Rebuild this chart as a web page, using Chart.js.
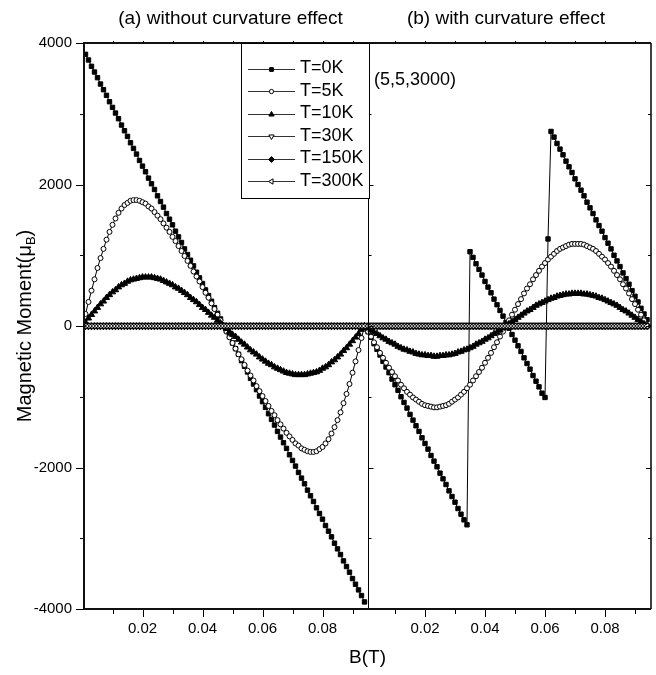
<!DOCTYPE html>
<html>
<head>
<meta charset="utf-8">
<script src="https://cdn.jsdelivr.net/npm/chart.js@4.4.1/dist/chart.umd.min.js"></script>
<style>
  html, body { margin: 0; padding: 0; background: #fff; }
  #wrap { width: 656px; height: 675px; }
</style>
</head>
<body>
<div id="wrap"><canvas id="chart" width="656" height="675"></canvas></div>
<script>
// B (T) sampled for both panels
const fieldB = [
  0.001,0.002,0.003,0.004,0.005,0.006,0.007,0.008,0.009,0.010,
  0.011,0.012,0.013,0.014,0.015,0.016,0.017,0.018,0.019,0.020,
  0.021,0.022,0.023,0.024,0.025,0.026,0.027,0.028,0.029,0.030,
  0.031,0.032,0.033,0.034,0.035,0.036,0.037,0.038,0.039,0.040,
  0.041,0.042,0.043,0.044,0.045,0.046,0.047,0.048,0.049,0.050,
  0.051,0.052,0.053,0.054,0.055,0.056,0.057,0.058,0.059,0.060,
  0.061,0.062,0.063,0.064,0.065,0.066,0.067,0.068,0.069,0.070,
  0.071,0.072,0.073,0.074,0.075,0.076,0.077,0.078,0.079,0.080,
  0.081,0.082,0.083,0.084,0.085,0.086,0.087,0.088,0.089,0.090,
  0.091,0.092,0.093,0.094
];

// (a) without curvature effect
const momentT0a = [
  3840,3760,3670,3590,3510,3420,3340,3260,3170,3090,
  3010,2930,2840,2760,2680,2590,2510,2430,2340,2260,
  2180,2090,2010,1930,1840,1760,1680,1590,1510,1430,
  1340,1260,1180,1090,1010,930,850,760,680,600,
  510,430,350,260,180,100,10,-70,-150,-240,
  -320,-400,-490,-570,-650,-740,-820,-900,-990,-1070,
  -1150,-1240,-1320,-1400,-1490,-1570,-1650,-1730,-1820,-1900,
  -1980,-2070,-2150,-2230,-2320,-2400,-2480,-2570,-2650,-2730,
  -2820,-2900,-2980,-3070,-3150,-3230,-3320,-3400,-3480,-3570,
  -3650,-3730,-3810,-3900
];
const momentT5a = [
  170,340,500,660,820,960,1090,1220,1330,1430,
  1520,1600,1660,1710,1740,1770,1780,1780,1770,1750,
  1730,1690,1660,1610,1560,1510,1450,1390,1330,1260,
  1200,1130,1060,990,920,850,770,700,630,550,
  470,400,320,240,160,80,0,-80,-160,-240,
  -320,-400,-470,-550,-630,-700,-770,-850,-920,-990,
  -1060,-1130,-1200,-1260,-1330,-1390,-1450,-1510,-1560,-1610,
  -1660,-1690,-1730,-1750,-1770,-1780,-1780,-1770,-1740,-1710,
  -1660,-1600,-1520,-1430,-1330,-1220,-1090,-960,-820,-660,
  -500,-340,-170,0
];
const momentT10a = [
  50,110,160,210,260,310,350,400,440,480,
  510,550,580,600,630,650,660,670,680,690,
  690,690,690,680,670,660,640,620,600,580,
  550,530,500,470,440,400,370,340,300,260,
  230,190,150,120,80,40,0,-40,-80,-120,
  -150,-190,-230,-260,-300,-340,-370,-400,-440,-470,
  -500,-530,-550,-580,-600,-620,-640,-660,-670,-680,
  -690,-690,-690,-690,-680,-670,-660,-650,-630,-600,
  -580,-550,-510,-480,-440,-400,-350,-310,-260,-210,
  -160,-110,-50,0
];

// (b) with curvature effect
const momentT0b = [
  -80,-160,-250,-330,-410,-500,-580,-660,-750,-830,
  -910,-1000,-1080,-1160,-1250,-1330,-1410,-1490,-1580,-1660,
  -1740,-1830,-1910,-1990,-2080,-2160,-2240,-2330,-2410,-2490,
  -2580,-2660,-2740,-2810,1050,970,880,800,720,630,
  550,470,380,300,220,140,50,-30,-120,-200,
  -280,-360,-450,-530,-610,-700,-780,-860,-950,-1010,
  1230,2750,2670,2580,2500,2420,2330,2250,2170,2080,
  2000,1920,1840,1750,1670,1590,1500,1420,1340,1250,
  1170,1090,1000,920,840,750,670,590,500,420,
  340,250,170,90
];
const momentT5b = [
  -80,-150,-230,-300,-380,-450,-520,-590,-650,-710,
  -770,-830,-880,-930,-970,-1010,-1040,-1070,-1100,-1120,
  -1130,-1140,-1150,-1150,-1140,-1130,-1120,-1100,-1070,-1040,
  -1010,-970,-930,-880,-830,-770,-710,-650,-590,-520,
  -450,-380,-300,-230,-150,-80,0,80,160,230,
  310,380,460,530,590,660,720,780,840,890,
  940,980,1020,1060,1090,1110,1130,1150,1160,1160,
  1160,1160,1150,1130,1110,1090,1060,1020,980,940,
  890,840,780,720,660,590,530,460,380,310,
  230,160,80,0
];
const momentT10b = [
  -30,-60,-90,-110,-140,-170,-190,-220,-240,-260,
  -290,-310,-330,-340,-360,-370,-390,-400,-410,-410,
  -420,-420,-430,-430,-420,-420,-410,-410,-400,-390,
  -370,-360,-340,-330,-310,-290,-260,-240,-220,-190,
  -170,-140,-110,-90,-60,-30,0,30,60,90,
  120,150,180,210,230,260,290,310,330,350,
  370,390,400,420,430,440,450,450,460,460,
  460,460,450,450,440,430,420,400,390,370,
  350,330,310,290,260,230,210,180,150,120,
  90,60,30,0
];
// T=30K, 150K and 300K stay on zero in both panels
const momentFlat = [
  0,0,0,0,0,0,0,0,0,0, 0,0,0,0,0,0,0,0,0,0,
  0,0,0,0,0,0,0,0,0,0, 0,0,0,0,0,0,0,0,0,0,
  0,0,0,0,0,0,0,0,0,0, 0,0,0,0,0,0,0,0,0,0,
  0,0,0,0,0,0,0,0,0,0, 0,0,0,0,0,0,0,0,0,0,
  0,0,0,0,0,0,0,0,0,0, 0,0,0,0
];

const seriesLabels = ['T=0K', 'T=5K', 'T=10K', 'T=30K', 'T=150K', 'T=300K'];
const panelTitles = ['(a) without curvature effect', '(b) with curvature effect'];
const sampleNote = '(5,5,3000)';
const xTickB = [0.01, 0.02, 0.03, 0.04, 0.05, 0.06, 0.07, 0.08, 0.09];
const xTickLabels = [0.02, 0.04, 0.06, 0.08];
const yTickValues = [-4000, -3000, -2000, -1000, 0, 1000, 2000, 3000, 4000];
const yTickLabels = [-4000, -2000, 0, 2000, 4000];

// both panels share one linear axis; panel (b) is shifted to the right
const xMin = 0.0005;
const panelWidth = 0.0945;
const rightShift = 0.09417;
const xSplit = xMin + panelWidth;
const xMax = xMin + 2 * panelWidth;

const FONT = "'Liberation Sans', Arial, Helvetica, sans-serif";
Chart.defaults.font.family = FONT;
Chart.defaults.color = '#000';

const markers = [
  { point: 'rect',     rotation: 0,   radius: 3.1, fill: '#000' },
  { point: 'circle',   rotation: 0,   radius: 2.5, fill: '#fff' },
  { point: 'triangle', rotation: 0,   radius: 3.6, fill: '#000' },
  { point: 'triangle', rotation: 180, radius: 3.6, fill: '#fff' },
  { point: 'rectRot',  rotation: 0,   radius: 3.4, fill: '#000' },
  { point: 'triangle', rotation: -90, radius: 3.6, fill: '#fff' }
];
const seriesData = [
  [momentT0a, momentT0b],
  [momentT5a, momentT5b],
  [momentT10a, momentT10b],
  [momentFlat, momentFlat],
  [momentFlat, momentFlat],
  [momentFlat, momentFlat]
];

function panelData(left, right) {
  const pts = fieldB.map((b, i) => ({ x: b, y: left[i] }));
  pts.push({ x: xSplit, y: null });
  fieldB.forEach((b, i) => pts.push({ x: b + rightShift, y: right[i] }));
  return pts;
}

function markerPath(ctx, m, x, y, scale) {
  const r = m.radius * scale;
  ctx.beginPath();
  if (m.point === 'circle') {
    ctx.arc(x, y, r, 0, Math.PI * 2);
  } else if (m.point === 'rect') {
    const h = r * Math.SQRT1_2;
    ctx.rect(x - h, y - h, 2 * h, 2 * h);
  } else {
    const n = m.point === 'triangle' ? 3 : 4;
    let a = m.rotation * Math.PI / 180;
    for (let k = 0; k < n; k++) {
      const px = x + Math.sin(a) * r, py = y - Math.cos(a) * r;
      if (k) ctx.lineTo(px, py); else ctx.moveTo(px, py);
      a += 2 * Math.PI / n;
    }
  }
  ctx.closePath();
}

// axis frame, divider and tick marks
const framePlugin = {
  id: 'framePlugin',
  afterDatasetsDraw(chart) {
    const { ctx, chartArea: a, scales: { x, y } } = chart;
    ctx.save();
    ctx.strokeStyle = '#000';
    ctx.lineWidth = 1;
    const line = (x1, y1, x2, y2) => { ctx.beginPath(); ctx.moveTo(x1, y1); ctx.lineTo(x2, y2); ctx.stroke(); };
    const xd = Math.round(x.getPixelForValue(xSplit)) + 0.5;

    x.ticks.forEach(t => {
      const px = Math.round(x.getPixelForValue(t.value)) + 0.5;
      const major = t.label !== '';
      line(px, a.bottom, px, a.bottom + (major ? 8 : 5));
      line(px, a.top, px, a.top - 2);
    });
    y.ticks.forEach(t => {
      const py = Math.round(y.getPixelForValue(t.value)) + 0.5;
      const major = yTickLabels.includes(t.value);
      line(a.left, py, a.left - (major ? 8 : 4), py);
      line(xd, py, xd + (major ? 5 : 3), py);
      line(a.right, py, a.right - (major ? 5 : 3), py);
    });

    line(xd, a.top, xd, a.bottom);
    ctx.lineWidth = 1.5;
    line(a.right, a.top, a.right, a.bottom);
    ctx.lineWidth = 2;
    ctx.strokeStyle = '#111';
    line(a.left, a.top - 1, a.left, a.bottom + 1);
    line(a.left - 1, a.bottom, a.right, a.bottom);
    line(a.left - 1, a.top, a.right, a.top);
    ctx.restore();
  }
};

// panel titles, legend, note and y title with subscript
const textPlugin = {
  id: 'textPlugin',
  afterDraw(chart) {
    const { ctx, chartArea: a } = chart;
    ctx.save();
    ctx.fillStyle = '#000';
    ctx.textBaseline = 'middle';
    ctx.textAlign = 'center';
    ctx.font = '19px ' + FONT;
    ctx.fillText(panelTitles[0], 230.5, 19);
    ctx.fillText(panelTitles[1], 506, 19);

    // legend box
    const bx = 241, by = a.top, bw = 128, bh = 155;
    ctx.fillStyle = '#fff';
    ctx.fillRect(bx, by, bw, bh);
    ctx.strokeStyle = '#000';
    ctx.lineWidth = 1;
    ctx.strokeRect(bx + 0.5, by + 0.5, bw, bh);
    ctx.textAlign = 'left';
    ctx.font = '18px ' + FONT;
    seriesLabels.forEach((lab, i) => {
      const ry = 68.5 + i * 22.5;
      const ly = Math.round(ry) + 0.5;
      ctx.strokeStyle = '#333';
      ctx.beginPath();
      ctx.moveTo(248, ly);
      ctx.lineTo(295, ly);
      ctx.stroke();
      ctx.strokeStyle = '#000';
      ctx.fillStyle = markers[i].fill;
      markerPath(ctx, markers[i], 271.5, ly, 0.85);
      ctx.fill();
      ctx.stroke();
      ctx.fillStyle = '#000';
      ctx.fillText(lab, 300, ry);
    });

    ctx.fillText(sampleNote, 374, 80);

    // y axis title
    ctx.translate(31, (a.top + a.bottom) / 2);
    ctx.rotate(-Math.PI / 2);
    ctx.textBaseline = 'alphabetic';
    ctx.textAlign = 'left';
    const main = 'Magnetic Moment(\u03bc';
    ctx.font = '20px ' + FONT;
    const w1 = ctx.measureText(main).width;
    const w3 = ctx.measureText(')').width;
    ctx.font = '13px ' + FONT;
    const w2 = ctx.measureText('B').width;
    const sx = -(w1 + w2 + w3) / 2;
    ctx.font = '20px ' + FONT;
    ctx.fillText(main, sx, 0);
    ctx.font = '13px ' + FONT;
    ctx.fillText('B', sx + w1, 4);
    ctx.font = '20px ' + FONT;
    ctx.fillText(')', sx + w1 + w2, 0);
    ctx.restore();
  }
};

new Chart(document.getElementById('chart'), {
  type: 'line',
  data: {
    datasets: seriesLabels.map((lab, i) => ({
      label: lab,
      data: panelData(seriesData[i][0], seriesData[i][1]),
      borderColor: '#000',
      borderWidth: 1,
      pointStyle: markers[i].point,
      pointRotation: markers[i].rotation,
      pointRadius: markers[i].radius,
      pointHoverRadius: markers[i].radius,
      pointBackgroundColor: markers[i].fill,
      pointBorderColor: '#000',
      pointBorderWidth: 1,
      tension: 0,
      spanGaps: false,
      fill: false,
      order: seriesLabels.length - i
    }))
  },
  options: {
    responsive: false,
    animation: false,
    devicePixelRatio: 1,
    layout: { padding: { top: 43, right: 5, left: 0, bottom: 0 } },
    plugins: {
      legend: { display: false },
      tooltip: { enabled: false },
      title: { display: false }
    },
    scales: {
      x: {
        type: 'linear',
        min: xMin,
        max: xMax,
        afterBuildTicks: s => {
          s.ticks = xTickB.map(v => ({ value: v })).concat(xTickB.map(v => ({ value: v + rightShift })));
        },
        afterFit: s => { s.height = 66; },
        grid: { display: false, drawTicks: false },
        border: { display: false },
        ticks: {
          autoSkip: false,
          maxRotation: 0,
          padding: 11,
          color: '#000',
          font: { size: 15 },
          callback: (v, i) => {
            const b = xTickB[i % xTickB.length];
            return xTickLabels.includes(b) ? b.toFixed(2) : '';
          }
        },
        title: {
          display: true,
          text: 'B(T)',
          color: '#000',
          font: { size: 19 },
          padding: { top: 0, bottom: 6 }
        }
      },
      y: {
        type: 'linear',
        min: -4000,
        max: 4000,
        afterBuildTicks: s => { s.ticks = yTickValues.map(v => ({ value: v })); },
        afterFit: s => { s.width = 84; },
        grid: { display: false, drawTicks: false },
        border: { display: false },
        ticks: {
          padding: 12,
          color: '#000',
          font: { size: 15 },
          callback: v => (yTickLabels.includes(v) ? String(v) : '')
        }
      }
    }
  },
  plugins: [framePlugin, textPlugin]
});
</script>
</body>
</html>
